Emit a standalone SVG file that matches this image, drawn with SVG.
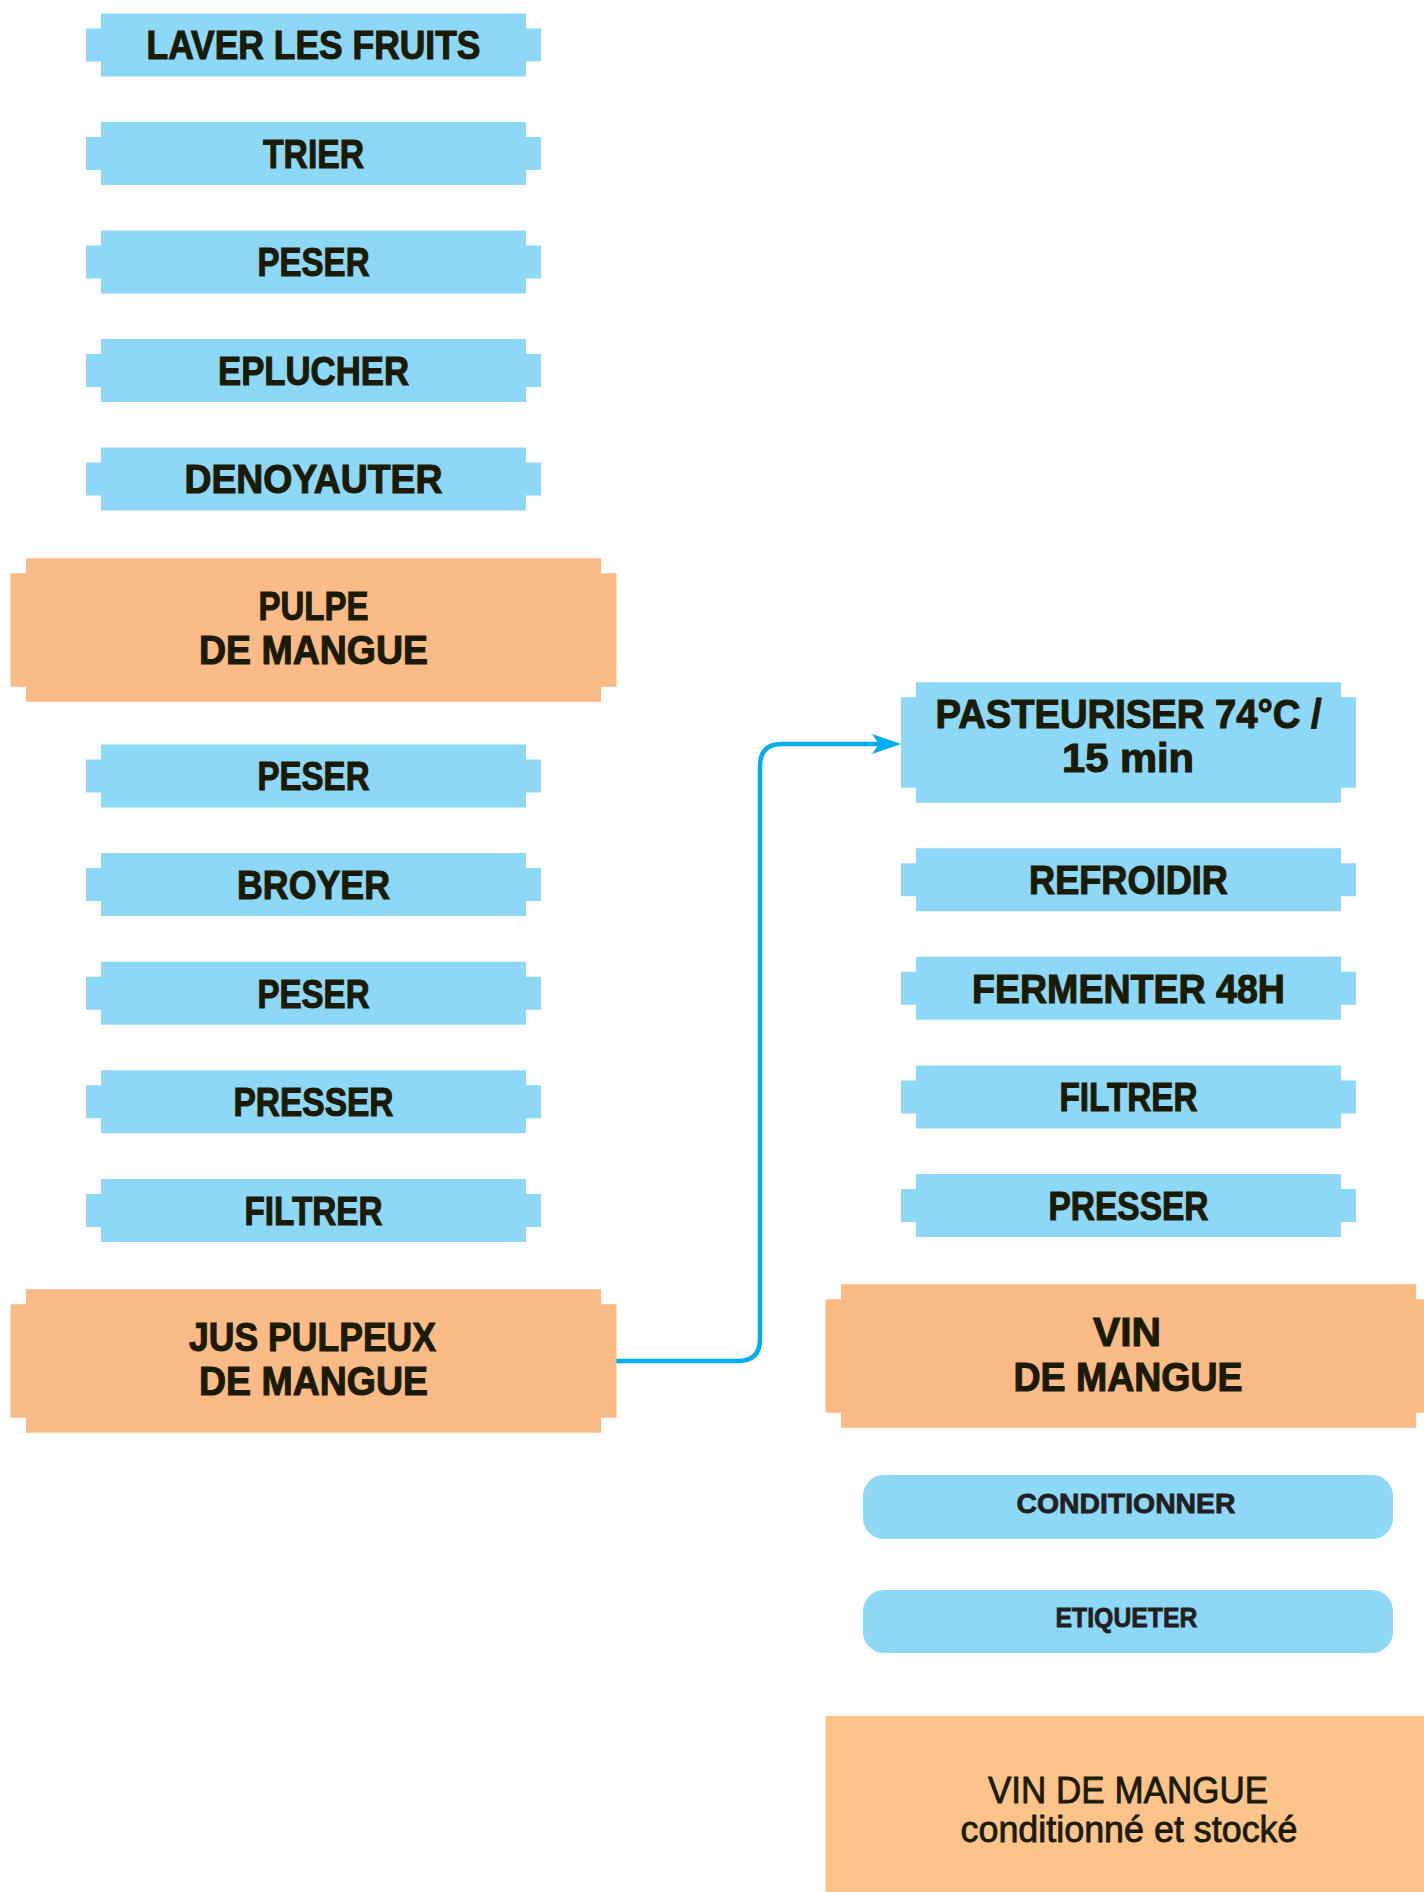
<svg xmlns="http://www.w3.org/2000/svg" xmlns:xlink="http://www.w3.org/1999/xlink" width="1424" height="1892" viewBox="0 0 1424 1892">
<style>
.b{fill:#8DD7F7}
.o{fill:#FBBB86}
.of{fill:#FCC48A}
.t{font-family:"Liberation Sans",Arial,sans-serif;font-weight:bold;font-size:40px;fill:#1b1a05;stroke:#1b1a05;stroke-width:1.1;text-anchor:middle}
.s{font-size:28px;fill:#231f20;stroke:#231f20;stroke-width:0.8}
.f{font-weight:normal;font-size:36px;stroke-width:0.8}
.c{fill:none;stroke:#00AEEF;stroke-width:4.5}
</style>
<defs>
<polygon id="sm" points="-212.5,-31.5 212.5,-31.5 212.5,-16.5 227.5,-16.5 227.5,16.5 212.5,16.5 212.5,31.5 -212.5,31.5 -212.5,16.5 -227.5,16.5 -227.5,-16.5 -212.5,-16.5"/>
<polygon id="lg" points="-287.5,-71.7 287.5,-71.7 287.5,-56.7 303,-56.7 303,56.7 287.5,56.7 287.5,71.7 -287.5,71.7 -287.5,56.7 -303,56.7 -303,-56.7 -287.5,-56.7"/>
<polygon id="md" points="-212.5,-60.2 212.5,-60.2 212.5,-45.2 227.5,-45.2 227.5,45.2 212.5,45.2 212.5,60.2 -212.5,60.2 -212.5,45.2 -227.5,45.2 -227.5,-45.2 -212.5,-45.2"/>
<marker id="ah" viewBox="0 0 30 20" refX="12" refY="10" markerWidth="30" markerHeight="20" markerUnits="userSpaceOnUse" orient="auto">
<path d="M0,0 L29,10 L0,20 L7,10 z" fill="#00AEEF"/>
</marker>
</defs>

<g id="connectors">
<path class="c" d="M616,1361 H738 Q760,1361 760,1339 V766 Q760,744 782,744 H884" marker-end="url(#ah)"/>
</g>

<g id="n1"><use href="#sm" class="b" x="313.5" y="45"/><text class="t" x="313.5" y="59.3" textLength="334" lengthAdjust="spacingAndGlyphs">LAVER LES FRUITS</text></g>
<g id="n2"><use href="#sm" class="b" x="313.5" y="153.5"/><text class="t" x="313.5" y="167.8" textLength="101" lengthAdjust="spacingAndGlyphs">TRIER</text></g>
<g id="n3"><use href="#sm" class="b" x="313.5" y="262"/><text class="t" x="313.5" y="276.3" textLength="112" lengthAdjust="spacingAndGlyphs">PESER</text></g>
<g id="n4"><use href="#sm" class="b" x="313.5" y="370.5"/><text class="t" x="313.5" y="384.8" textLength="191" lengthAdjust="spacingAndGlyphs">EPLUCHER</text></g>
<g id="n5"><use href="#sm" class="b" x="313.5" y="479"/><text class="t" x="313.5" y="493.3" textLength="258" lengthAdjust="spacingAndGlyphs">DENOYAUTER</text></g>
<g id="n6"><use href="#lg" class="o" x="313.5" y="630"/><text class="t" x="313.5" y="620" textLength="110" lengthAdjust="spacingAndGlyphs">PULPE</text><text class="t" x="313.5" y="664" textLength="229" lengthAdjust="spacingAndGlyphs">DE MANGUE</text></g>
<g id="n7"><use href="#sm" class="b" x="313.5" y="776"/><text class="t" x="313.5" y="790.3" textLength="112" lengthAdjust="spacingAndGlyphs">PESER</text></g>
<g id="n8"><use href="#sm" class="b" x="313.5" y="884.6"/><text class="t" x="313.5" y="898.9" textLength="153" lengthAdjust="spacingAndGlyphs">BROYER</text></g>
<g id="n9"><use href="#sm" class="b" x="313.5" y="993.2"/><text class="t" x="313.5" y="1007.5" textLength="112" lengthAdjust="spacingAndGlyphs">PESER</text></g>
<g id="n10"><use href="#sm" class="b" x="313.5" y="1101.8"/><text class="t" x="313.5" y="1116.1" textLength="160" lengthAdjust="spacingAndGlyphs">PRESSER</text></g>
<g id="n11"><use href="#sm" class="b" x="313.5" y="1210.4"/><text class="t" x="313.5" y="1224.7" textLength="138" lengthAdjust="spacingAndGlyphs">FILTRER</text></g>
<g id="n12"><use href="#lg" class="o" x="313.5" y="1361"/><text class="t" x="312.5" y="1350.7" textLength="247" lengthAdjust="spacingAndGlyphs">JUS PULPEUX</text><text class="t" x="313.5" y="1395" textLength="229" lengthAdjust="spacingAndGlyphs">DE MANGUE</text></g>

<g id="n13"><use href="#md" class="b" x="1128.5" y="742.5"/><text class="t" x="1128.5" y="727.7" textLength="386" lengthAdjust="spacingAndGlyphs">PASTEURISER 74°C /</text><text class="t" x="1128" y="772.3" textLength="132" lengthAdjust="spacingAndGlyphs">15 min</text></g>
<g id="n14"><use href="#sm" class="b" x="1128.5" y="879.7"/><text class="t" x="1128.5" y="894" textLength="199" lengthAdjust="spacingAndGlyphs">REFROIDIR</text></g>
<g id="n15"><use href="#sm" class="b" x="1128.5" y="988.3"/><text class="t" x="1128.5" y="1002.6" textLength="313" lengthAdjust="spacingAndGlyphs">FERMENTER 48H</text></g>
<g id="n16"><use href="#sm" class="b" x="1128.5" y="1097"/><text class="t" x="1128.5" y="1111.3" textLength="138" lengthAdjust="spacingAndGlyphs">FILTRER</text></g>
<g id="n17"><use href="#sm" class="b" x="1128.5" y="1205.6"/><text class="t" x="1128.5" y="1219.9" textLength="160" lengthAdjust="spacingAndGlyphs">PRESSER</text></g>
<g id="n18"><use href="#lg" class="o" x="1128.5" y="1356"/><text class="t" x="1127" y="1346" textLength="68" lengthAdjust="spacingAndGlyphs">VIN</text><text class="t" x="1128" y="1390.7" textLength="229" lengthAdjust="spacingAndGlyphs">DE MANGUE</text></g>
<g id="n19"><rect class="b" x="863" y="1475" width="530" height="64" rx="21" ry="21"/><text class="t s" x="1126" y="1513.3" textLength="219" lengthAdjust="spacingAndGlyphs">CONDITIONNER</text></g>
<g id="n20"><rect class="b" x="863" y="1590" width="530" height="63" rx="21" ry="21"/><text class="t s" x="1126.5" y="1627.3" textLength="142" lengthAdjust="spacingAndGlyphs">ETIQUETER</text></g>
<g id="n21"><rect class="of" x="825.5" y="1716" width="610" height="190"/><text class="t f" x="1128" y="1803" textLength="280" lengthAdjust="spacingAndGlyphs">VIN DE MANGUE</text><text class="t f" x="1129" y="1842" textLength="337" lengthAdjust="spacingAndGlyphs">conditionné et stocké</text></g>
</svg>
